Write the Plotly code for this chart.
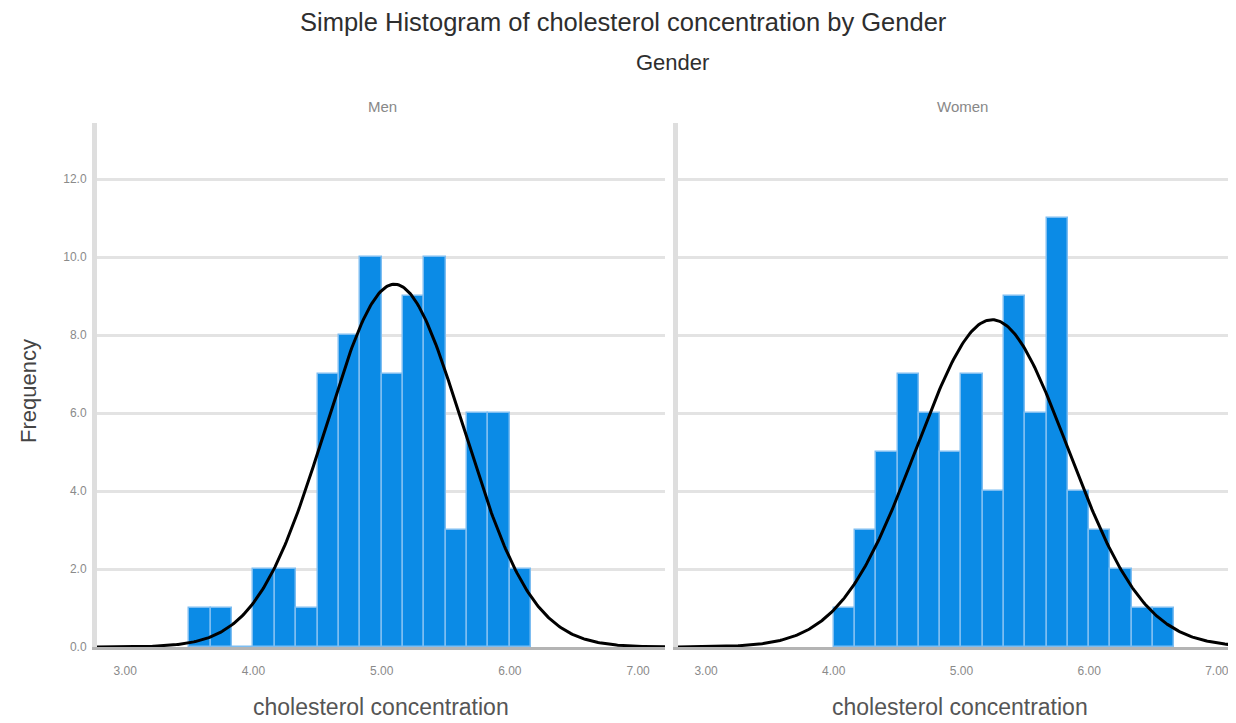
import numpy as np
import plotly.graph_objects as go

# ---- data ----
bin_width = 1 / 6
men_bin_start = 3.5
men_counts = [1, 1, 0, 2, 2, 1, 7, 8, 10, 7, 9, 10, 3, 6, 6, 2]
women_bin_start = 4.0
women_counts = [1, 3, 5, 7, 6, 5, 7, 4, 9, 6, 11, 4, 3, 2, 1, 1]
men_mean, men_sd = 5.10, 0.536
women_mean, women_sd = 5.24, 0.594
x_tick_vals = [3, 4, 5, 6, 7]
y_tick_vals = [0, 2, 4, 6, 8, 10, 12]
panel_names = ["Men", "Women"]

# ---- layout geometry (screen pixels; page body has an 8px margin) ----
OFF = 8
W, H = 1236 - OFF, 723 - OFF
L = 97 - OFF
T = 123 - OFF
B = H - (647 - OFF)
R = 0
PW = W - L - R
PH = H - T - B


def px(xs):
    return (xs - OFF - L) / PW


def py(ys):
    return (H - B - (ys - OFF)) / PH


BAR = "#0b8be6"
BAR_EDGE = "#7dbdf1"

fig = go.Figure()


def add_panel(counts, start, mean, sd, xa, ya, xmax):
    n = sum(counts)
    centers = [start + (i + 0.5) * bin_width for i in range(len(counts))]
    fig.add_trace(go.Bar(x=centers, y=counts, width=[bin_width] * len(counts),
                         marker=dict(color=BAR, line=dict(color=BAR_EDGE, width=1.5)),
                         xaxis=xa, yaxis=ya, showlegend=False, hoverinfo="x+y"))
    xs = np.linspace(2.78, xmax, 400)
    ys = n * bin_width / (sd * np.sqrt(2 * np.pi)) * np.exp(-0.5 * ((xs - mean) / sd) ** 2)
    fig.add_trace(go.Scatter(x=xs, y=ys, mode="lines", line=dict(color="black", width=3),
                             xaxis=xa, yaxis=ya, showlegend=False, hoverinfo="skip"))


add_panel(men_counts, men_bin_start, men_mean, men_sd, "x", "y", 7.21)
add_panel(women_counts, women_bin_start, women_mean, women_sd, "x2", "y2", 7.15)

tickfont = dict(family="Liberation Sans, Arial", size=12, color="#8a8a8a")
xcommon = dict(tickvals=x_tick_vals, tickformat=".2f", showgrid=False, zeroline=False,
               showline=True, linecolor="#b4b4b4", linewidth=3, layer="below traces",
               ticks="", tickfont=tickfont, ticklabelstandoff=11, fixedrange=True)
ycommon = dict(range=[0, 13.44], tickvals=y_tick_vals, tickformat=".1f", showgrid=True,
               gridcolor="#e3e3e3", gridwidth=3, zeroline=False, showline=True,
               linecolor="#dedede", linewidth=5, ticks="", layer="below traces",
               fixedrange=True)

fig.update_layout(
    width=W, height=H,
    margin=dict(l=L, r=R, t=T, b=B),
    paper_bgcolor="white", plot_bgcolor="white",
    bargap=0, barmode="overlay",
    xaxis=dict(domain=[0, px(665)], range=[2.78, 7.21], **xcommon),
    xaxis2=dict(domain=[px(678), 1], range=[2.78, 7.15], anchor="y2", **xcommon),
    yaxis=dict(domain=[0, 1], anchor="x", tickfont=tickfont, ticklabelstandoff=3, **ycommon),
    yaxis2=dict(domain=[0, 1], anchor="x2", showticklabels=False, **ycommon),
    font=dict(family="Liberation Sans, Arial", color="#444"),
)

ann = [
    dict(text="Simple Histogram of cholesterol concentration by Gender", x=px(623), y=py(22),
         font=dict(size=25.5, color="#2e2e2e")),
    dict(text="Gender", x=px(672), y=py(62), font=dict(size=22, color="#2e2e2e")),
    dict(text=panel_names[0], x=px(382), y=py(107), font=dict(size=15, color="#888")),
    dict(text=panel_names[1], x=px(962), y=py(107), font=dict(size=15, color="#888")),
    dict(text="cholesterol concentration", x=px(381), y=py(707), font=dict(size=23, color="#555")),
    dict(text="cholesterol concentration", x=px(960), y=py(707), font=dict(size=23, color="#555")),
    dict(text="Frequency", x=px(28), y=py(391), textangle=-90, font=dict(size=22, color="#444")),
]
for a in ann:
    fig.add_annotation(xref="paper", yref="paper", showarrow=False, xanchor="center",
                       yanchor="middle", **a)

fig.write_html("out.html")
